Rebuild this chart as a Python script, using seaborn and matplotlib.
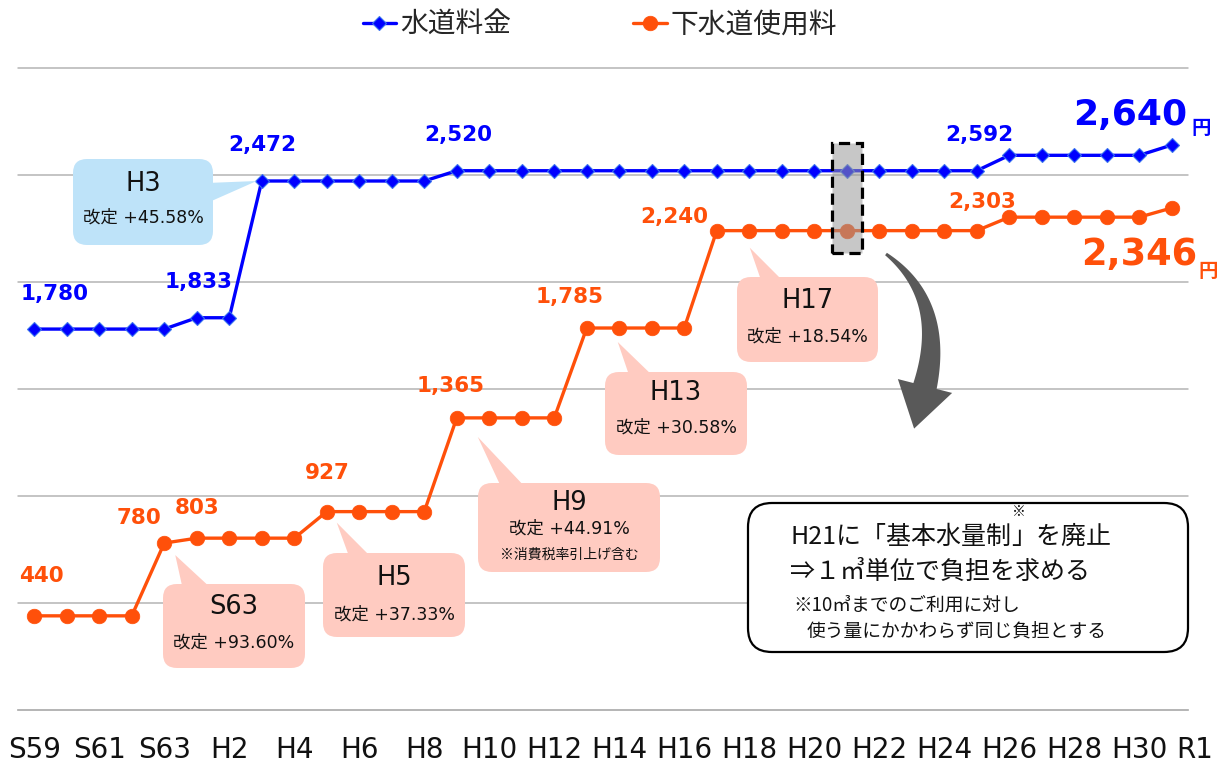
import numpy as np
import pandas as pd
import matplotlib
matplotlib.use("Agg")
import matplotlib.pyplot as plt
import matplotlib.transforms as mtransforms
from matplotlib.patches import FancyBboxPatch, Polygon, Rectangle
import seaborn as sns

# ---------------------------------------------------------------- data
years = ["S59", "S60", "S61", "S62", "S63",
         "H1", "H2", "H3", "H4", "H5", "H6", "H7", "H8", "H9", "H10",
         "H11", "H12", "H13", "H14", "H15", "H16", "H17", "H18", "H19", "H20",
         "H21", "H22", "H23", "H24", "H25", "H26", "H27", "H28", "H29", "H30",
         "R1"]

water = [1780, 1780, 1780, 1780, 1780,
         1833, 1833, 2472, 2472, 2472, 2472, 2472, 2472, 2520, 2520,
         2520, 2520, 2520, 2520, 2520, 2520, 2520, 2520, 2520, 2520,
         2520, 2520, 2520, 2520, 2520, 2592, 2592, 2592, 2592, 2592,
         2640]

sewer = [440, 440, 440, 440, 780,
         803, 803, 803, 803, 927, 927, 927, 927, 1365, 1365,
         1365, 1365, 1785, 1785, 1785, 1785, 2240, 2240, 2240, 2240,
         2240, 2240, 2240, 2240, 2240, 2303, 2303, 2303, 2303, 2303,
         2346]

tick_years = ["S59", "S61", "S63", "H2", "H4", "H6", "H8", "H10", "H12",
              "H14", "H16", "H18", "H20", "H22", "H24", "H26", "H28", "H30"]
last_year = "R1"

series_names = ["水道料金", "下水道使用料"]

water_label_years = ["S59", "H1", "H3", "H9", "H26"]
sewer_label_years = ["S59", "S63", "H1", "H5", "H9", "H13", "H17", "H26"]

revisions = [  # (year, series, title, subtitle, note)
    ("H3", "water", "H3", "改定 +45.58%", None),
    ("S63", "sewer", "S63", "改定 +93.60%", None),
    ("H5", "sewer", "H5", "改定 +37.33%", None),
    ("H9", "sewer", "H9", "改定 +44.91%", "※消費税率引上げ含む"),
    ("H13", "sewer", "H13", "改定 +30.58%", None),
    ("H17", "sewer", "H17", "改定 +18.54%", None),
]

# ---------------------------------------------------------------- style
BLUE = "#0000FF"
ORANGE = "#FF500A"
GRID = "#B4B4B4"
BUBBLE_BLUE = "#BEE3F9"
BUBBLE_ORANGE = "#FFCBC1"
JP = "Noto Sans CJK JP"
MIX = ["DejaVu Sans", JP]

sns.set_style("white")
plt.rcParams["font.family"] = MIX

W, H = 1230, 763
fig = plt.figure(figsize=(W / 100, H / 100), dpi=100)
ax = fig.add_axes([18 / W, (H - 710) / H, 1170 / W, 642 / H])

idx = {y: i for i, y in enumerate(years)}
df = pd.DataFrame({"pos": np.arange(len(years)), "water": water, "sewer": sewer})

sns.lineplot(data=df, x="pos", y="water", ax=ax, color=BLUE, linewidth=2.4,
             marker="D", markersize=7.5, markerfacecolor=BLUE,
             markeredgecolor="#3A74F0", markeredgewidth=0.8,
             errorbar=None, zorder=3, label=series_names[0])
sns.lineplot(data=df, x="pos", y="sewer", ax=ax, color=ORANGE, linewidth=2.4,
             marker="o", markersize=10.5, markerfacecolor=ORANGE,
             markeredgecolor=ORANGE, markeredgewidth=0.5,
             errorbar=None, zorder=3, label=series_names[1])
if ax.get_legend() is not None:
    ax.get_legend().remove()
handles = [l for l in ax.get_lines() if l.get_label() in series_names]

ax.set_xlim(-0.5, len(years) - 0.5)
ax.set_ylim(0, 3000)
ax.set_xlabel("")
ax.set_ylabel("")
for s in ["left", "right", "top"]:
    ax.spines[s].set_visible(False)
ax.spines["bottom"].set_color(GRID)
ax.spines["bottom"].set_linewidth(1.2)

ax.set_yticks(np.arange(0, 3001, 500))
ax.tick_params(axis="y", length=0, labelleft=False)
ax.grid(axis="y", color=GRID, linewidth=1.1)
ax.grid(axis="x", visible=False)
for gl in ax.get_ygridlines():
    gl.set_clip_on(False)
ax.set_axisbelow(True)

ax.set_xticks([idx[y] for y in tick_years], tick_years)
ax.set_xticks(np.arange(-0.5, len(years), 1), minor=True)
ax.tick_params(axis="x", which="major", length=0, pad=18.5, labelsize=20,
               labelcolor="#111111")
ax.tick_params(axis="x", which="minor", length=6, width=1.1, color=GRID)
for t in ax.get_xticklabels():
    t.set_fontfamily("DejaVu Sans")
ax.annotate(last_year, (idx[last_year], 0), xytext=(23, -40),
            textcoords="offset pixels", ha="center", va="center",
            fontsize=20, family="DejaVu Sans", color="#111111",
            annotation_clip=False)

# ---------------------------------------------------------------- value labels
lab_kw = dict(textcoords="offset pixels", ha="center", va="center",
              fontsize=15.5, fontweight="bold", family="DejaVu Sans",
              annotation_clip=False, zorder=6)
water_offsets = [(20, 35), (2, 36), (0, 36), (1, 36), (-30, 20)]
sewer_offsets = [(7, 40), (-25, 25), (0, 30), (1, 39), (-6, 32), (-17, 31),
                 (-42, 14), (-27, 15)]
for y, off in zip(water_label_years, water_offsets):
    i = idx[y]
    ax.annotate(f"{water[i]:,}", (i, water[i]), xytext=off, color=BLUE, **lab_kw)
for y, off in zip(sewer_label_years, sewer_offsets):
    i = idx[y]
    ax.annotate(f"{sewer[i]:,}", (i, sewer[i]), xytext=off, color=ORANGE, **lab_kw)

# latest values, emphasised
i = idx[last_year]
big_kw = dict(textcoords="offset pixels", fontweight="bold", annotation_clip=False, zorder=6)
ax.annotate(f"{water[i]:,}", (i, water[i]), xytext=(16, 30), ha="right", va="center",
            fontsize=26, family="DejaVu Sans", color=BLUE, **big_kw)
ax.annotate("円", (i, water[i]), xytext=(20, 17), ha="left", va="center",
            fontsize=14, family=JP, color=BLUE, **big_kw)
ax.annotate(f"{sewer[i]:,}", (i, sewer[i]), xytext=(25, -47), ha="right", va="center",
            fontsize=26.5, family="DejaVu Sans", color=ORANGE, **big_kw)
ax.annotate("円", (i, sewer[i]), xytext=(27, -64), ha="left", va="center",
            fontsize=14, family=JP, color=ORANGE, **big_kw)

# highlight of the H21 change
h21 = idx["H21"]
ax.add_patch(Rectangle((h21 - 0.46, 2136), 0.92, 513,
                       facecolor=(0.6, 0.6, 0.6, 0.55), edgecolor="black",
                       linewidth=2.3, linestyle=(0, (3.5, 1.8)), zorder=5))

# ---------------------------------------------------------------- helpers (image pixels, y down)
ident = mtransforms.IdentityTransform()


def disp(x, y):
    return (x, H - y)


def data_px(i, v):
    x, y = ax.transData.transform((i, v))
    return x, H - y


def ftext(x, y, s, **kw):
    return fig.text(x / W, 1 - y / H, s, **kw)


# speech bubbles for each revision
bubble_geom = {
    "H3": dict(box=(73, 159, 213, 245), tip=(-5, 0), side="right", base=(183, 203),
               ty=(184, 218)),
    "S63": dict(box=(163, 584, 305, 668), tip=(11, 12), side="top", base=(183, 213),
                ty=(607, 643)),
    "H5": dict(box=(323, 553, 465, 637), tip=(10, 11), side="top", base=(350, 373),
               ty=(578, 615)),
    "H9": dict(box=(478, 483, 660, 572), tip=(21, 19), side="top", base=(502, 527),
               ty=(503, 529, 555)),
    "H13": dict(box=(605, 372, 747, 455), tip=(31, 14), side="top", base=(630, 655),
                ty=(393, 428)),
    "H17": dict(box=(737, 277, 878, 362), tip=(33, 17), side="top", base=(762, 785),
                ty=(301, 337)),
}
series_vals = {"water": water, "sewer": sewer}
for year, ser, title, sub, note in revisions:
    g = bubble_geom[year]
    color = BUBBLE_BLUE if ser == "water" else BUBBLE_ORANGE
    x0, y0, x1, y1 = g["box"]
    px, py = data_px(idx[year], series_vals[ser][idx[year]])
    tip = (px + g["tip"][0], py + g["tip"][1])
    if g["side"] == "top":
        tri = [disp(g["base"][0], y0 + 6), disp(g["base"][1], y0 + 6), disp(*tip)]
    else:
        tri = [disp(x1 - 6, g["base"][0]), disp(x1 - 6, g["base"][1]), disp(*tip)]
    fig.add_artist(Polygon(tri, closed=True, facecolor=color, edgecolor="none",
                           transform=ident, zorder=4))
    fig.add_artist(FancyBboxPatch(disp(x0, y1), x1 - x0, y1 - y0,
                                  boxstyle="round,pad=0,rounding_size=14",
                                  facecolor=color, edgecolor="none",
                                  transform=ident, zorder=4))
    cx = (x0 + x1) / 2
    ftext(cx, g["ty"][0], title, ha="center", va="center", fontsize=18.5,
          family="DejaVu Sans", color="#111111", zorder=5)
    ftext(cx, g["ty"][1], sub, ha="center", va="center", fontsize=12.5,
          family=MIX, color="#111111", zorder=5)
    if note:
        ftext(cx, g["ty"][2], note, ha="center", va="center", fontsize=10,
              family=JP, color="#111111", zorder=5)

# curved arrow pointing from the H21 highlight to the note
P0, C, P2 = np.array([886.0, 254.0]), np.array([947.0, 300.0]), np.array([925.0, 386.0])
t = np.linspace(0, 1, 60)[:, None]
B = (1 - t) ** 2 * P0 + 2 * (1 - t) * t * C + t ** 2 * P2
dB = 2 * (1 - t) * (C - P0) + 2 * t * (P2 - C)
nrm = np.column_stack([-dB[:, 1], dB[:, 0]])
nrm /= np.linalg.norm(nrm, axis=1, keepdims=True)
wid = (3 + 21 * t) / 2
left = B + nrm * wid
right = B - nrm * wid
d = (P2 - C) / np.linalg.norm(P2 - C)
perp = np.array([-d[1], d[0]])
head = [P2 + perp * 28, P2 + d * 44, P2 - perp * 28]
outline = np.vstack([left, head, right[::-1]])
outline[:, 1] = H - outline[:, 1]
fig.add_artist(Polygon(outline, closed=True, facecolor="#595959", edgecolor="none",
                       transform=ident, zorder=4))

# note box about the H21 change
fig.add_artist(FancyBboxPatch(disp(748, 652), 440, 149,
                              boxstyle="round,pad=0,rounding_size=24",
                              facecolor="white", edgecolor="black", linewidth=1.6,
                              transform=ident, zorder=4))
line1_head = "H21に「基本水量制"
line1_tail = "」を廃止"
t_head = ftext(790, 537, line1_head, ha="left", va="center",
               fontsize=18, family=JP, color="#111111", zorder=5)
renderer = fig.canvas.get_renderer()
bb = t_head.get_window_extent(renderer)
fig.text(bb.x1 / W, 1 - 537 / H, line1_tail, ha="left", va="center",
         fontsize=18, family=JP, color="#111111", zorder=5)
fig.text((bb.x1 + 8) / W, 1 - 512 / H, "※", ha="center", va="center",
         fontsize=10, family=JP, color="#111111", zorder=5)
ftext(790, 572, "⇒１㎥単位で負担を求める", ha="left", va="center",
      fontsize=18, family=JP, color="#111111", zorder=5)
ftext(793, 605, "※10㎥までのご利用に対し", ha="left", va="center",
      fontsize=13.5, family=JP, color="#111111", zorder=5)
ftext(807, 632, "使う量にかかわらず同じ負担とする", ha="left", va="center",
      fontsize=13.5, family=JP, color="#111111", zorder=5)

# legend
fig.legend(handles, series_names, loc="center", bbox_to_anchor=(600 / W, 1 - 25 / H),
           ncol=2, frameon=False, prop={"family": JP, "size": 20},
           handlelength=1.2, handletextpad=0.15, columnspacing=4.4)

fig.savefig("out.png", dpi=100)
